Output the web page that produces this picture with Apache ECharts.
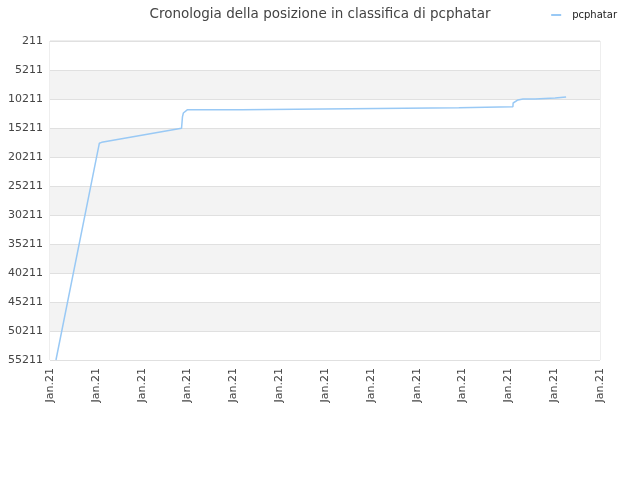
<!DOCTYPE html>
<html>
<head>
<meta charset="utf-8">
<script src="https://cdn.jsdelivr.net/npm/echarts@6/dist/echarts.min.js"></script>
<style>html,body{margin:0;padding:0;background:#fff}#c{width:640px;height:480px}</style>
</head>
<body>
<div id="c"></div>
<script>
var titleText = 'Cronologia della posizione in classifica di pcphatar';
var seriesName = 'pcphatar';
var xTickLabels = ['Jan.21','Jan.21','Jan.21','Jan.21','Jan.21','Jan.21','Jan.21','Jan.21','Jan.21','Jan.21','Jan.21','Jan.21','Jan.21'];
var yTickValues = [211, 5211, 10211, 15211, 20211, 25211, 30211, 35211, 40211, 45211, 50211, 55211];
var timeValues = [0.13, 1.076, 1.128, 2.87, 2.88, 2.89, 2.91, 2.945, 3.0, 4.18, 4.19, 6.54, 6.55, 8.92, 8.93, 10.1, 10.105, 10.145, 10.21, 10.32, 10.58, 10.6, 11.02, 11.04, 11.26];
var rankValues = [55211, 17850, 17680, 15250, 15000, 13300, 12620, 12280, 12056, 12056, 11883, 11883, 11710, 11710, 11555, 11555, 10900, 10600, 10380, 10211, 10211, 10040, 10040, 9866, 9866];

var chart = echarts.init(document.getElementById('c'), null, {renderer: 'canvas'});
var pts = timeValues.map(function (t, i) { return [t, rankValues[i]]; });
chart.setOption({
  animation: false,
  textStyle: {fontFamily: 'DejaVu Sans'},
  title: {
    text: titleText, left: 'center', top: 2,
    textStyle: {fontSize: 13.5, fontWeight: 'normal', color: '#444', fontFamily: 'DejaVu Sans'}
  },
  legend: {
    data: [seriesName], right: 18, top: 5,
    icon: 'rect', itemWidth: 10, itemHeight: 2, itemGap: 6,
    textStyle: {fontSize: 10, color: '#222', fontFamily: 'DejaVu Sans', padding: [0, 0, 0, 6]}
  },
  grid: {left: 50, right: 40, top: 41, bottom: 120, show: true, borderColor: '#dddddd', borderWidth: 1, containLabel: false},
  xAxis: {
    type: 'value', min: 0, max: 12, interval: 1,
    axisLine: {show: false}, axisTick: {show: false}, splitLine: {show: false},
    axisLabel: {
      rotate: 90, fontSize: 11, color: '#444', margin: 8,
      formatter: function (v) { return xTickLabels[Math.round(v)] || ''; }
    }
  },
  yAxis: {
    type: 'value', inverse: true, min: yTickValues[0], max: yTickValues[yTickValues.length - 1], interval: 5000,
    axisLine: {show: false}, axisTick: {show: false},
    splitLine: {show: true, lineStyle: {color: '#e0e0e0', width: 1}},
    splitArea: {show: true, areaStyle: {color: ['#ffffff', '#f3f3f3']}},
    axisLabel: {fontSize: 11, color: '#444', margin: 7, formatter: function (v) { return String(v); }}
  },
  series: [{
    name: seriesName, type: 'line', data: pts, showSymbol: false, symbol: 'none',
    lineStyle: {color: '#99c9f5', width: 1.5}, itemStyle: {color: '#99c9f5'}
  }]
});
</script>
</body>
</html>
